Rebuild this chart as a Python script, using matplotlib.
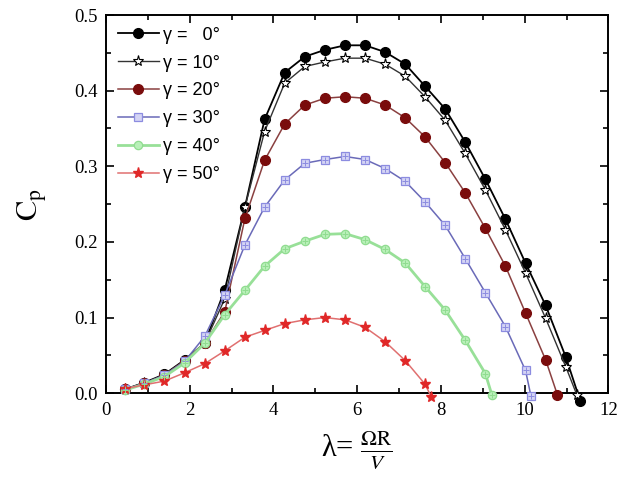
import matplotlib.pyplot as plt
import numpy as np

plt.rcParams['mathtext.fontset'] = 'stix'

# tip speed ratio grid, last point of each series is its zero crossing
lam = [0.45, 0.92, 1.40, 1.88, 2.36, 2.84, 3.32, 3.79, 4.27, 4.75, 5.23, 5.71,
       6.19, 6.67, 7.15, 7.62, 8.10, 8.58, 9.06, 9.54, 10.02, 10.50, 10.98]

cp_0 = [0.005, 0.014, 0.025, 0.044, 0.066, 0.137, 0.246, 0.362, 0.424, 0.445, 0.454, 0.460,
        0.460, 0.451, 0.435, 0.406, 0.376, 0.332, 0.283, 0.230, 0.172, 0.116, 0.048]
end_0 = (11.33, -0.011)

cp_10 = [0.005, 0.013, 0.024, 0.043, 0.066, 0.125, 0.246, 0.346, 0.410, 0.432, 0.438, 0.443,
         0.443, 0.435, 0.419, 0.392, 0.361, 0.317, 0.269, 0.216, 0.159, 0.099, 0.035]
end_10 = (11.25, -0.003)

cp_20 = [0.005, 0.013, 0.024, 0.043, 0.066, 0.108, 0.231, 0.308, 0.356, 0.381, 0.390, 0.392,
         0.390, 0.381, 0.364, 0.339, 0.305, 0.265, 0.218, 0.168, 0.106, 0.044]
end_20 = (10.78, -0.002)

cp_30 = [0.005, 0.013, 0.024, 0.042, 0.075, 0.130, 0.196, 0.246, 0.282, 0.304, 0.309, 0.313,
         0.309, 0.297, 0.280, 0.253, 0.222, 0.178, 0.133, 0.088, 0.030]
end_30 = (10.15, -0.004)

cp_40 = [0.004, 0.012, 0.022, 0.040, 0.066, 0.104, 0.136, 0.168, 0.191, 0.201, 0.210, 0.211,
         0.203, 0.190, 0.172, 0.141, 0.110, 0.070, 0.026]
end_40 = (9.22, -0.003)

cp_50 = [0.006, 0.011, 0.016, 0.027, 0.039, 0.056, 0.074, 0.083, 0.092, 0.097, 0.100, 0.097,
         0.087, 0.068, 0.043, 0.012]
end_50 = (7.77, -0.005)

labels = ['γ =   0°', 'γ = 10°', 'γ = 20°', 'γ = 30°', 'γ = 40°', 'γ = 50°']

fig = plt.figure(figsize=(6.19, 4.86), dpi=100)
ax = fig.add_axes([0.171, 0.191, 0.812, 0.778])


def series(cp, end):
    x = lam[:len(cp)] + [end[0]]
    y = cp + [end[1]]
    return x, y


styles = [
    dict(color='black', marker='o', ms=7, mfc='black', mec='black', lw=1.3),
    dict(color='#333333', marker='*', ms=8, mfc='white', mec='black', mew=0.8, lw=1.0),
    dict(color='#8a4040', marker='o', ms=7, mfc='#7a0c0c', mec='#7a0c0c', lw=1.1),
    dict(color='#6a6ab8', marker='s', ms=5.5, mfc='#d4d4f4', mec='#8c8ce0', mew=0.9, lw=1.1),
    dict(color='#98e098', marker='o', ms=6, mfc='#b8f0b8', mec='#90dc90', mew=0.9, lw=2.0),
    dict(color='#e07070', marker='*', ms=8, mfc='#e02828', mec='#e02828', lw=1.1),
]
# small crosses inside the hollow markers of the 30 and 40 degree curves
inner = {3: '#8c8ce0', 4: '#90dc90'}

data = [(cp_0, end_0), (cp_10, end_10), (cp_20, end_20),
        (cp_30, end_30), (cp_40, end_40), (cp_50, end_50)]

for i, ((cp, end), st, lab) in enumerate(zip(data, styles, labels)):
    x, y = series(cp, end)
    ax.plot(x, y, label=lab, clip_on=False, zorder=3, **st)
    if i in inner:
        ax.plot(x, y, ls='none', marker='+', ms=4.5, mew=0.7, color=inner[i],
                clip_on=False, zorder=4)

ax.set_xlim(0, 12)
ax.set_ylim(0, 0.5)
ax.set_xticks(np.arange(0, 13, 2))
ax.set_xticks(np.arange(1, 12, 2), minor=True)
ax.set_yticks(np.arange(0, 0.51, 0.1))
ax.set_yticks(np.arange(0.05, 0.5, 0.1), minor=True)
ax.set_yticklabels(['0.0', '0.1', '0.2', '0.3', '0.4', '0.5'])
ax.tick_params(which='both', direction='in', top=True, right=True, width=1.2)
ax.tick_params(which='major', length=6, labelsize=13.5, pad=6)
ax.tick_params(which='minor', length=3.5)
for lab in ax.get_xticklabels() + ax.get_yticklabels():
    lab.set_fontfamily('Liberation Serif')
for sp in ax.spines.values():
    sp.set_linewidth(1.4)

ax.set_ylabel(r'$\mathrm{C_p}$', fontsize=22, labelpad=18)
ax.set_xlabel(r'λ= $\frac{\Omega\mathrm{R}}{V}$', fontsize=22, labelpad=8,
              fontfamily='Liberation Serif')

leg = ax.legend(loc='upper left', frameon=False, handlelength=2.3, handletextpad=0.2,
                labelspacing=0.6, borderaxespad=0.25,
                prop={'family': 'Liberation Sans', 'size': 13})

fig.savefig('out.png', dpi=100)
